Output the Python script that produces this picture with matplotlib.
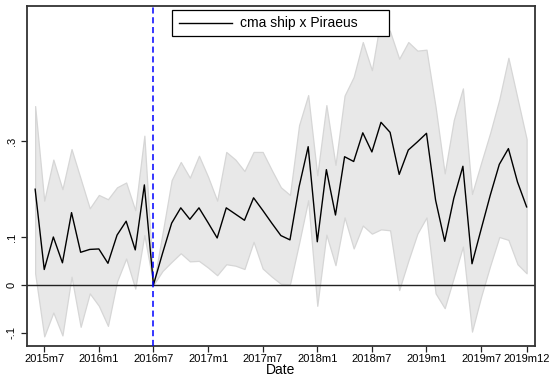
#!/usr/bin/env python3
"""
Event-study plot: monthly coefficient with 95% CI band
"""

import numpy as np
import pandas as pd
import matplotlib
matplotlib.use('Agg')
import matplotlib.pyplot as plt

plt.rcParams['font.family'] = ['Liberation Sans', 'DejaVu Sans']

# Monthly estimates, 2015m6 .. 2019m12 (2016m7 is the omitted base month)
dates = pd.period_range('2015-06', '2019-12', freq='M')

coef = [0.200, 0.032, 0.100, 0.046, 0.151, 0.068, 0.074, 0.075, 0.045, 0.104,
        0.133, 0.073, 0.209, 0.000, 0.066, 0.129, 0.161, 0.137, 0.161, 0.130,
        0.098, 0.161, 0.148, 0.135, 0.182, 0.156, 0.129, 0.103, 0.094, 0.205,
        0.289, 0.090, 0.241, 0.146, 0.268, 0.258, 0.318, 0.278, 0.340, 0.319,
        0.231, 0.282, 0.299, 0.317, 0.177, 0.091, 0.181, 0.248, 0.044, 0.116,
        0.187, 0.252, 0.285, 0.215, 0.163]

ci_upper = [0.374, 0.176, 0.262, 0.200, 0.284, 0.222, 0.160, 0.188, 0.179, 0.204,
            0.214, 0.156, 0.312, 0.000, 0.108, 0.219, 0.257, 0.224, 0.270, 0.226,
            0.176, 0.278, 0.262, 0.238, 0.278, 0.278, 0.240, 0.204, 0.188, 0.334,
            0.397, 0.229, 0.376, 0.251, 0.396, 0.435, 0.508, 0.449, 0.560, 0.530,
            0.473, 0.508, 0.490, 0.492, 0.372, 0.233, 0.345, 0.411, 0.190, 0.255,
            0.318, 0.388, 0.475, 0.390, 0.305]

ci_lower = [0.024, -0.108, -0.058, -0.106, 0.017, -0.088, -0.018, -0.044, -0.086, 0.007,
            0.055, -0.008, 0.104, 0.000, 0.029, 0.048, 0.066, 0.049, 0.050, 0.036,
            0.020, 0.043, 0.040, 0.033, 0.090, 0.034, 0.017, 0.002, 0.001, 0.087,
            0.177, -0.044, 0.105, 0.041, 0.141, 0.076, 0.124, 0.107, 0.116, 0.114,
            -0.011, 0.050, 0.107, 0.141, -0.018, -0.049, 0.015, 0.080, -0.098, -0.025,
            0.040, 0.100, 0.094, 0.043, 0.024]

event_month = '2016-07'
tick_months = ['2015-07', '2016-01', '2016-07', '2017-01', '2017-07',
               '2018-01', '2018-07', '2019-01', '2019-07', '2019-12']
y_ticks = [-0.1, 0, 0.1, 0.3]
y_labels = ['-.1', '0', '.1', '.3']
series_label = 'cma ship x Piraeus'


def month_index(s):
    return dates.get_loc(pd.Period(s, freq='M'))


x = np.arange(len(dates))

fig = plt.figure(figsize=(5.5, 3.81), dpi=100)
ax = fig.add_axes([0.0485, 0.092, 0.9242, 0.893])

# CI band and point estimates
ax.fill_between(x, ci_lower, ci_upper, facecolor='#e8e8e8', edgecolor='#d6d6d6',
                linewidth=0.9, zorder=1)
ax.plot(x, coef, color='black', linewidth=1.0, zorder=3)

ax.axhline(0, color='#222222', linewidth=1.0, zorder=2)
ax.axvline(month_index(event_month), color='#0000ff', linewidth=1.1,
           linestyle=(0, (4, 2.4)), zorder=4)

ax.set_xlim(-0.93, 54.92)
ax.set_ylim(-0.128, 0.584)

xt = [month_index(m) for m in tick_months]
ax.set_xticks(xt)
ax.set_xticklabels([f'{dates[i].year}m{dates[i].month}' for i in xt], fontsize=8)
ax.set_yticks(y_ticks)
ax.set_yticklabels(y_labels, fontsize=8, rotation=90, va='center')
ax.tick_params(axis='both', direction='out', length=4, width=0.9, color='#222222')
ax.tick_params(axis='x', pad=2)
ax.tick_params(axis='y', pad=3)
ax.set_xlabel('Date', fontsize=10, labelpad=-1)

for side in ['left', 'bottom', 'top', 'right']:
    ax.spines[side].set_color('#333333')
    ax.spines[side].set_linewidth(1.3)

# Legend box drawn in axes coordinates
ax.add_patch(plt.Rectangle((0.2859, 0.911), 0.4269, 0.0764, transform=ax.transAxes,
                           facecolor='white', edgecolor='black', linewidth=0.9,
                           zorder=5))
ax.plot([0.299, 0.4033], [0.949, 0.949], transform=ax.transAxes, color='black',
        linewidth=1.0, zorder=6)
ax.text(0.4196, 0.949, series_label, transform=ax.transAxes, fontsize=10,
        va='center', ha='left', zorder=6)

fig.savefig('out.png', dpi=100)
